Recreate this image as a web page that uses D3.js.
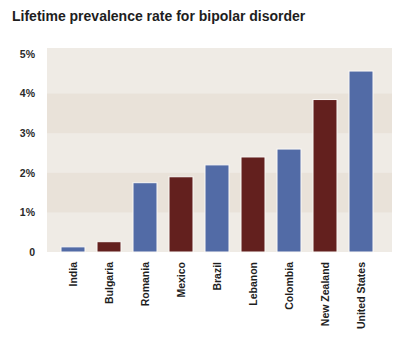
<!DOCTYPE html>
<html>
<head>
<meta charset="utf-8">
<script src="https://cdn.jsdelivr.net/npm/d3@7"></script>
<style>
  html, body { margin: 0; padding: 0; background: #fff; }
  svg { display: block; font-family: "Liberation Sans", Arial, sans-serif; }
</style>
</head>
<body>
<svg id="chart" width="400" height="337"></svg>
<script>
/* ── Data ─────────────────────────────────────────────────────── */
const countries = ['India', 'Bulgaria', 'Romania', 'Mexico', 'Brazil',
                   'Lebanon', 'Colombia', 'New Zealand', 'United States'];
const rates     = [0.13, 0.26, 1.75, 1.9, 2.2, 2.4, 2.6, 3.85, 4.57];
const groups    = ['a', 'b', 'a', 'b', 'a', 'b', 'a', 'b', 'a'];
const yTicks    = [0, 1, 2, 3, 4, 5];
const yTickText = ['0', '1%', '2%', '3%', '4%', '5%'];

/* ── Layout ───────────────────────────────────────────────────── */
const PLOT_L = 47, PLOT_R = 392, PLOT_T = 48, BASE = 252;
const colors = { a: '#526ba6', b: '#63201e' };

const svg = d3.select('#chart');

const x = d3.scaleBand()
  .domain(countries)
  .range([55, 379])
  .paddingInner(1 / 3)
  .paddingOuter(1 / 6);

const y = d3.scaleLinear()
  .domain([0, 5])
  .range([BASE, 54]);

/* Title */
svg.append('text')
  .attr('x', 12)
  .attr('y', 21)
  .attr('font-size', 14)
  .attr('font-weight', 'bold')
  .attr('fill', '#1e1e1e')
  .text('Lifetime prevalence rate for bipolar disorder');

/* Background with alternating horizontal bands */
svg.append('rect')
  .attr('x', PLOT_L).attr('y', PLOT_T)
  .attr('width', PLOT_R - PLOT_L).attr('height', BASE - PLOT_T)
  .attr('fill', '#efebe5');

svg.append('g').selectAll('rect')
  .data([[1, 2], [3, 4]])
  .join('rect')
  .attr('x', PLOT_L)
  .attr('width', PLOT_R - PLOT_L)
  .attr('y', d => y(d[1]))
  .attr('height', d => y(d[0]) - y(d[1]))
  .attr('fill', '#e9e2d9');

/* Bars */
svg.append('g').selectAll('rect')
  .data(countries)
  .join('rect')
  .attr('x', d => x(d))
  .attr('width', x.bandwidth())
  .attr('y', (d, i) => y(rates[i]))
  .attr('height', (d, i) => BASE - y(rates[i]))
  .attr('fill', (d, i) => colors[groups[i]])
  .attr('stroke', '#fbf9f6')
  .attr('stroke-width', 1);

/* Y axis */
const yAxis = svg.append('g')
  .attr('transform', 'translate(35,0)')
  .call(d3.axisLeft(y)
    .tickValues(yTicks)
    .tickFormat((d, i) => yTickText[i])
    .tickSize(0)
    .tickPadding(0));
yAxis.select('.domain').remove();
yAxis.selectAll('text')
  .attr('font-size', 10.5)
  .attr('font-weight', 'bold')
  .attr('font-family', '"Liberation Sans", Arial, sans-serif')
  .attr('fill', '#2a2a2a');

/* X axis, rotated labels */
const xAxis = svg.append('g')
  .attr('transform', `translate(0,${BASE})`)
  .call(d3.axisBottom(x).tickSize(0));
xAxis.select('.domain').remove();
xAxis.selectAll('text')
  .attr('font-size', 10.5)
  .attr('font-weight', 'bold')
  .attr('font-family', '"Liberation Sans", Arial, sans-serif')
  .attr('fill', '#1e1e1e')
  .attr('text-anchor', 'end')
  .attr('dy', '0.35em')
  .attr('transform', 'translate(0,10) rotate(-90)')
  .attr('x', 0)
  .attr('y', 0);
</script>
</body>
</html>
